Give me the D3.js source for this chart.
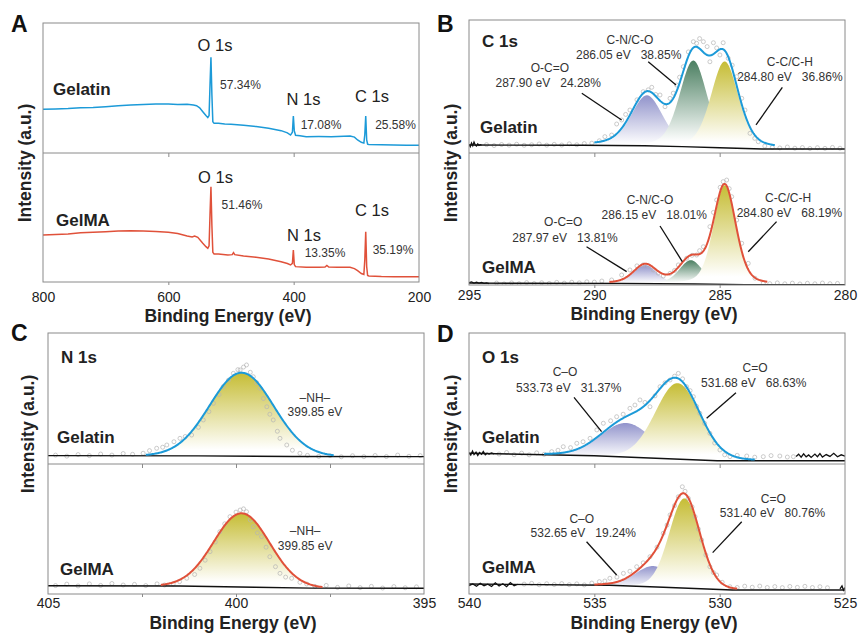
<!DOCTYPE html>
<html>
<head>
<meta charset="utf-8">
<script src="https://cdn.jsdelivr.net/npm/d3@7"></script>
<style>
  body { margin: 0; background: #fff; }
  text { font-family: "Liberation Sans", Arial, sans-serif; }
</style>
</head>
<body>
<script>
// ---------------- data (binding energy in eV, intensity in a.u. 0-100 per sub-plot) ----------------

// A: survey spectra
var surveyGelatin = [
  [800,33.6],[780,33.9],[760,34.2],[740,34.8],[720,35.0],[700,35.6],[680,36.3],[660,37.0],[640,37.4],
  [620,37.6],[600,37.7],[585,37.3],[570,37.5],[560,36.9],[555,36.4],[550,34.8],[545,31.8],[540,28.9],
  [537,27.3],[535,28.8],[533.5,52],[532,73.6],[530.5,45],[529,24],[527,22.8],[520,22.9],[510,22.4],
  [500,22.1],[480,21.3],[460,20.3],[440,19.0],[420,17.2],[410,15.5],[405,13.8],[402,16],[400.5,28.5],
  [399,17],[397,13.6],[390,13.2],[380,12.5],[360,12.6],[340,12.5],[320,12.9],[310,13.1],[303,12.2],
  [298,10.0],[292,8.2],[288,7.6],[286.5,14],[285,28.5],[283.5,10],[282,6.8],[280,6.6],[260,6.3],
  [240,6.2],[220,6.0],[200,5.9]
];
var surveyGelMA = [
  [800,36.4],[780,36.8],[760,37.3],[740,38.2],[720,38.6],[700,39.0],[680,39.6],[660,39.8],[640,39.6],
  [620,39.2],[600,38.5],[585,37.6],[570,35.7],[562,34.9],[558,35.6],[553,34.6],[545,30.0],[540,27.4],
  [537,26.1],[535,28],[533.5,52],[532,73.9],[530.5,44],[529,23],[527,21.7],[520,21.7],[505,20.9],
  [498,21.2],[496,22.8],[494,21.2],[480,20.2],[460,19.1],[440,17.8],[420,15.7],[410,14.3],[405,13.2],
  [402,14.5],[400.5,24.8],[399,13.5],[397,11.9],[380,11.4],[360,11.4],[350,11.6],[347,12.8],[344,11.6],
  [330,11.4],[310,11.4],[303,10.4],[298,8.8],[292,6.6],[288,5.8],[286.5,17],[285,39.0],[283.5,12],
  [282,5.0],[280,4.6],[260,4.2],[240,4.1],[200,4.1]
];
var surveyLinesGelatin = ["O 1s", "N 1s", "C 1s"];
var surveyPctGelatin = ["57.34%", "17.08%", "25.58%"];
var surveyLinesGelMA = ["O 1s", "N 1s", "C 1s"];
var surveyPctGelMA = ["51.46%", "13.35%", "35.19%"];

// B: C 1s high resolution
var c1sGelatinRaw = [
  [294.3,6.3],[294.0,5.6],[293.7,6.4],[293.4,5.9],[293.1,6.6],[292.8,5.8],[292.5,6.2],[292.2,6.8],
  [291.9,5.9],[291.6,6.5],[291.3,6.0],[291.0,6.9],[290.7,6.2],[290.4,7.1],[290.1,7.4],[289.8,9.2],
  [289.58,12.3],[289.31,13.5],[289.11,21.8],[288.91,24.8],[288.75,29],[288.58,32.3],[288.3,40],
  [288.05,46.1],[287.85,47.5],[287.71,49.4],[287.55,44],[287.38,43.6],[287.18,34.8],[286.98,41.1],
  [286.85,45],[286.72,51.1],[286.6,57],[286.45,64.9],[286.25,76],[286.05,83.7],[285.92,82.5],
  [285.8,86],[285.65,83.7],[285.5,80],[285.39,68.6],[285.25,82.9],[285.12,79],[284.99,73.7],
  [284.86,82.9],[284.66,71.2],[284.5,66],[284.32,57.4],[284.12,41.1],[283.99,32.3],[283.79,14.8],
  [283.6,11],[283.46,8.5],[283.2,5.2],[282.9,4.2],[282.6,3.8],[282.3,4.5],[282.0,3.6],[281.7,4.1],
  [281.4,3.4],[281.1,4.0],[280.8,3.5],[280.5,4.2],[280.2,3.6]
];
var c1sGelatinNoise = [[295,6.5],[294.95,4.8],[294.9,7.5],[294.85,5.5],[294.8,8.2],[294.75,6.0],
  [294.7,5.2],[294.65,6.8],[294.6,5.7],[294.55,6.2],[294.5,5.9]];
var c1sGelatinBg = [[295,6.0],[290.5,5.8],[288,5.4],[286.5,4.8],[285,3.9],[283.3,3.0],[280,3.0]];
var c1sGelatinPeaks = [
  {name: "O-C=O",   be: 287.90, pct: 24.28, height: 38, fwhm: 1.5},
  {name: "C-N/C-O", be: 286.05, pct: 38.85, height: 65, fwhm: 1.3},
  {name: "C-C/C-H", be: 284.80, pct: 36.86, height: 65, fwhm: 1.3}
];

var c1sGelMARaw = [
  [293.9,1.5],[293.6,0.8],[293.3,1.6],[293.0,1.0],[292.7,1.8],[292.4,1.1],[292.1,1.7],[291.8,1.2],
  [291.5,2.0],[291.2,1.4],[290.9,2.1],[290.6,1.6],[290.3,2.4],[290.0,2.2],[289.7,3.0],[289.31,3.8],
  [288.91,7.6],[288.58,11.4],[288.3,14.5],[288.05,15.2],[287.85,14.8],[287.65,11.4],[287.45,9],
  [287.25,6.8],[286.98,8.8],[286.8,11],[286.65,15.2],[286.32,20.2],[286.1,22.5],[285.92,22.7],
  [285.8,26],[285.65,29.0],[285.39,44.2],[285.25,55],[285.12,64.4],[284.98,74],[284.86,78.3],
  [284.72,79.5],[284.62,73],[284.52,66.9],[284.32,49.2],[284.12,31.6],[283.86,16.4],[283.59,5.1],
  [283.26,1.3],[283.0,1.0],[282.7,1.6],[282.4,0.9],[282.1,1.4],[281.8,0.8],[281.5,1.3],[281.2,0.9],
  [280.9,1.5],[280.6,1.0],[280.3,1.2]
];
var c1sGelMANoise = [[295,1.8],[294.9,2.4],[294.8,1.5],[294.7,2.1],[294.6,1.4],[294.5,1.9],
  [294.4,1.2],[294.3,1.6],[294.2,1.1]];
var c1sGelMABg = [[295,1.4],[289,1.2],[286,0.8],[284,0.3],[280,0.2]];
var c1sGelMAPeaks = [
  {name: "O-C=O",   be: 287.97, pct: 13.81, height: 14, fwhm: 1.1},
  {name: "C-N/C-O", be: 286.15, pct: 18.01, height: 18, fwhm: 1.1},
  {name: "C-C/C-H", be: 284.80, pct: 68.19, height: 75, fwhm: 1.05}
];

// C: N 1s high resolution
var n1sGelatinRaw = [
  [404.8,6.8],[404.5,6.0],[404.2,7.2],[403.9,6.4],[403.6,7.6],[403.3,6.8],[403.0,8.0],[402.75,7.4],
  [402.47,8.2],[402.3,10.2],[402.11,12.0],[401.95,12.8],[401.84,14.5],[401.65,17],[401.49,19.6],
  [401.35,21],[401.18,22.1],[401.0,28],[400.87,33.6],[400.72,40],[400.6,46.3],[400.45,53],
  [400.34,59.0],[400.2,64],[400.07,69.2],[399.95,72],[399.89,71.8],[399.8,74],[399.72,75.6],
  [399.62,70],[399.54,66.6],[399.45,62],[399.36,57.8],[399.27,50],[399.18,43.7],[399.1,38],
  [399.01,33.6],[398.9,25],[398.83,19.6],[398.65,14.5],[398.5,10.5],[398.3,8.2],[398.1,6.6],
  [397.8,5.8],[397.5,6.4],[397.2,5.5],[396.9,6.3],[396.6,5.6],[396.3,6.5],[396.0,5.7],[395.7,6.8],
  [395.4,5.9],[395.1,6.4]
];
var n1sGelatinBg = [[405,6.4],[401,6.2],[398.5,5.7],[395,5.6]];
var n1sGelatinPeaks = [{name: "\u2013NH\u2013", be: 399.85, height: 63.7, fwhm: 2.0}];

var n1sGelMARaw = [
  [404.8,6.5],[404.5,7.6],[404.2,6.2],[403.9,7.8],[403.6,6.6],[403.3,8.1],[403.0,6.9],[402.7,7.4],
  [402.4,6.5],[402.1,7.8],[401.9,6.9],[401.67,7.7],[401.5,9.5],[401.31,12.1],[401.1,15],[400.96,19.8],
  [400.82,26],[400.69,32.6],[400.55,40],[400.43,47.9],[400.3,54],[400.16,59.5],[400.0,63],
  [399.89,64.6],[399.8,65.5],[399.72,63.3],[399.62,57],[399.54,51.8],[399.43,47],[399.32,44.1],
  [399.2,36],[399.10,28.7],[398.95,21],[398.83,15.9],[398.68,13],[398.52,12.1],[398.3,9],
  [398.12,7.7],[397.9,5.8],[397.6,6.6],[397.3,5.1],[397.0,6.2],[396.7,4.9],[396.4,5.9],[396.1,4.6],
  [395.8,5.7],[395.5,4.8],[395.2,5.5]
];
var n1sGelMABg = [[405,6.4],[401.5,6.1],[399.5,5.2],[398,4.5],[395,4.4]];
var n1sGelMAPeaks = [{name: "\u2013NH\u2013", be: 399.85, height: 56.7, fwhm: 1.75}];

// D: O 1s high resolution
var o1sGelatinRaw = [
  [538.8,7.6],[538.5,8.8],[538.2,7.1],[537.9,8.3],[537.6,7.0],[537.3,8.5],[537.0,7.4],[536.7,9.4],
  [536.45,10.5],[536.24,13.2],[535.95,12.5],[535.70,15.8],[535.45,17],[535.17,19.6],[534.9,26],
  [534.64,31.1],[534.35,33],[534.11,36.1],[533.85,38],[533.58,42.5],[533.38,45],[533.18,48.9],
  [532.98,47],[532.78,43.7],[532.58,52],[532.38,59.0],[532.18,62],[531.98,64.1],[531.8,67],
  [531.65,69.2],[531.48,65],[531.32,59.0],[531.18,56],[531.05,51.4],[530.92,44],[530.79,38.7],
  [530.6,31],[530.39,23.4],[530.2,16],[529.99,10.7],[529.8,7],[529.59,5.6],[529.3,6.6],[528.92,6.1],
  [528.6,5.2],[528.26,5.6],[527.95,6.4],[527.6,6.1],[527.3,5.3],[527.06,5.6]
];
var o1sGelatinNoise = [[540,8.5],[539.93,6.8],[539.86,9.8],[539.8,7.2],[539.72,9.0],[539.65,6.5],
  [539.58,8.8],[539.5,7.4],[539.43,9.5],[539.35,7.0],[539.28,8.2],[539.2,7.6],[539.1,8.4],[539.0,7.8]];
var o1sGelatinNoise2 = [[526.95,5.8],[526.85,7.5],[526.75,5.2],[526.65,7.8],[526.55,5.5],[526.45,6.9],
  [526.35,5.0],[526.2,7.6],[526.1,5.6],[526.0,8.0],[525.9,5.3],[525.75,7.2],[525.6,5.8],[525.45,8.2],
  [525.3,5.5],[525.15,7.0],[525.0,6.0]];
var o1sGelatinBg = [[540,8.2],[535,6.3],[530.1,2.5],[525,2.5]];
var o1sGelatinPeaks = [
  {name: "C\u2013O", be: 533.73, pct: 31.37, height: 26, fwhm: 2.4},
  {name: "C=O",     be: 531.68, pct: 68.63, height: 58, fwhm: 2.1}
];

var o1sGelMARaw = [
  [537.8,7.6],[537.5,8.2],[537.2,7.1],[536.9,7.9],[536.6,7.3],[536.3,8.0],[536.0,7.2],[535.7,7.8],
  [535.4,7.0],[535.1,8.4],[534.8,9.5],[534.58,10],[534.38,12.1],[534.1,13],[533.84,15.9],[533.58,17.5],
  [533.31,21.0],[533.05,24],[532.78,28.7],[532.5,36],[532.25,46.7],[532.1,53],[531.98,60.8],[531.8,68],
  [531.65,74.8],[531.49,82.5],[531.38,79],[531.25,73.6],[531.1,67],[530.98,59.5],[530.85,50],
  [530.72,41.5],[530.55,30],[530.39,21.0],[530.25,16.5],[530.12,14.6],[529.9,9],[529.59,5.6],
  [529.3,5.0],[529.0,6.0],[528.7,5.2],[528.4,6.1],[528.1,5.0],[527.8,5.7],[527.5,4.9],[527.2,5.8],
  [526.9,5.1],[526.6,5.9],[526.3,5.0],[526.0,5.6],[525.7,4.8]
];
var o1sGelMANoise = [[540,6.5],[539.85,7.8],[539.7,6.0],[539.55,8.2],[539.4,6.4],[539.25,7.5],
  [539.1,5.8],[538.95,8.6],[538.8,6.2],[538.65,7.9],[538.5,5.6],[538.35,8.8],[538.2,6.3],[538.05,7.5]];
var o1sGelMANoise2 = [[525.2,4.0],[525.12,6.2],[525.06,3.0],[525.0,5.0]];
var o1sGelMABg = [[540,7.7],[534.4,6.7],[532.25,5.2],[529.5,3.1],[525,3.1]];
var o1sGelMAPeaks = [
  {name: "C\u2013O", be: 532.65, pct: 19.24, height: 16, fwhm: 1.7},
  {name: "C=O",     be: 531.40, pct: 80.76, height: 69, fwhm: 1.45}
];

// Lorentzian share of the fitted line shape for each core level
var shapeMix = {c1s: 0.3, n1s: 0.0, o1s: 0.1};

// ---------------- styles / layout ----------------
var blue = "#1c9ad8", red = "#e0513a";
var compColors = {
  "O-C=O": "purple", "C-N/C-O": "green", "C-C/C-H": "yellow",
  "\u2013NH\u2013": "yellow", "C\u2013O": "purple", "C=O": "yellow"
};
var gradStops = {purple: "#9193cb", green: "#4b7f61", yellow: "#c6bd35"};

var svg = d3.select("body").append("svg").attr("width", 860).attr("height", 633);
var defs = svg.append("defs");
Object.keys(gradStops).forEach(function(k) {
  var gr = defs.append("linearGradient").attr("id", "grad-" + k)
    .attr("x1", 0).attr("y1", 0).attr("x2", 0).attr("y2", 1);
  gr.append("stop").attr("offset", "0%").attr("stop-color", gradStops[k]);
  gr.append("stop").attr("offset", "92%").attr("stop-color", "#fff");
});

// annotation anchors, in data coordinates
var notesA = [
  [{t: 0, x: 525.5, y: 83.1, p: 484.9, q: 52.3}, {t: 1, x: 384.3, y: 41.5, p: 356.4, q: 21.5}, {t: 2, x: 275, y: 43.8, p: 237.5, q: 21.5}],
  [{t: 0, x: 524.7, y: 81.4, p: 482.5, q: 59.7}, {t: 1, x: 383.5, y: 36.4, p: 350.0, q: 22.5}, {t: 2, x: 275, y: 55.8, p: 241.5, q: 24.8}]
];
var notesB = [
  [{nx: 291.77, ny: 63.9, vx: 291.84, vy: 52.6, l: [290.50, 44.9, 288.91, 24.8]},
   {nx: 288.58, ny: 85.0, vx: 288.63, vy: 73.7, l: [287.85, 68.6, 286.74, 51.1]},
   {nx: 282.20, ny: 68.4, vx: 282.20, vy: 57.1, l: [282.50, 49.4, 283.55, 21.1]}],
  [{nx: 291.24, ny: 48.0, vx: 291.17, vy: 35.6, l: [290.31, 29.0, 288.71, 10.1]},
   {nx: 287.78, ny: 64.4, vx: 287.61, vy: 53.0, l: [287.38, 44.7, 286.49, 17.7]},
   {nx: 282.27, ny: 65.9, vx: 282.22, vy: 54.5, l: [282.73, 48.0, 283.86, 25.2]}]
];
var notesC = [
  [{nx: 397.90, ny: 50.6, vx: 397.90, vy: 40.0}],
  [{nx: 398.16, ny: 49.0, vx: 398.16, vy: 37.3}]
];
var notesD = [
  [{nx: 536.17, ny: 70.5, vx: 536.02, vy: 58.5, l: [535.81, 50.9, 534.71, 24.7]},
   {nx: 528.59, ny: 73.8, vx: 528.64, vy: 62.1, l: [529.35, 54.4, 530.52, 34.9]}],
  [{nx: 535.50, ny: 58.2, vx: 535.44, vy: 47.2, l: [535.31, 40.2, 534.11, 14.6]},
   {nx: 527.86, ny: 73.6, vx: 527.89, vy: 62.1, l: [529.12, 55.6, 530.28, 31.8]}]
];

var panels = [
  {letter: "A", lx: 11, ly: 32, left: 43, right: 419, top: 23, mid: 153, bottom: 282,
   domain: [800, 200], labels: [800, 600, 400, 200], ticks: [600, 400], tickY: 304, xlabY: 322,
   ylab: [25, 163], nameX: [10, 13], nameDy: [58, 56],
   subs: [
     {name: "Gelatin", survey: surveyGelatin, color: blue, lines: surveyLinesGelatin, pct: surveyPctGelatin, notes: notesA[0]},
     {name: "GelMA", survey: surveyGelMA, color: red, lines: surveyLinesGelMA, pct: surveyPctGelMA, notes: notesA[1]}
   ]},
  {letter: "B", lx: 437, ly: 32, title: "C 1s", left: 469, right: 845, top: 20, mid: 153, bottom: 285,
   domain: [295, 280], labels: [295, 290, 285, 280], ticks: [290, 285], tickY: 302, xlabY: 320,
   ylab: [451, 163], nameX: [11, 13], nameDy: [20, 12],
   subs: [
     {name: "Gelatin", raw: c1sGelatinRaw, noise: [c1sGelatinNoise], bg: c1sGelatinBg, peaks: c1sGelatinPeaks,
      mix: shapeMix.c1s, range: [290.0, 282.8], color: blue, notes: notesB[0]},
     {name: "GelMA", raw: c1sGelMARaw, noise: [c1sGelMANoise], bg: c1sGelMABg, peaks: c1sGelMAPeaks,
      mix: shapeMix.c1s, range: [289.4, 283.1], color: red, notes: notesB[1]}
   ]},
  {letter: "C", lx: 11, ly: 341, title: "N 1s", left: 48, right: 424, top: 333, mid: 464, bottom: 594,
   domain: [405, 395], labels: [405, 400, 395], ticks: [402.5, 400, 397.5], tickY: 610, xlabY: 629,
   ylab: [28, 434], nameX: [9, 12], nameDy: [21, 19],
   subs: [
     {name: "Gelatin", raw: n1sGelatinRaw, noise: [], bg: n1sGelatinBg, peaks: n1sGelatinPeaks,
      mix: shapeMix.n1s, range: [402.4, 397.4], color: blue, notes: notesC[0], nh: true},
     {name: "GelMA", raw: n1sGelMARaw, noise: [], bg: n1sGelMABg, peaks: n1sGelMAPeaks,
      mix: shapeMix.n1s, range: [402.0, 397.7], color: red, notes: notesC[1], nh: true}
   ]},
  {letter: "D", lx: 437, ly: 342, title: "O 1s", left: 469, right: 845, top: 333, mid: 464, bottom: 594,
   domain: [540, 525], labels: [540, 535, 530, 525], ticks: [535, 530], tickY: 610, xlabY: 629,
   ylab: [451, 434], nameX: [13, 13], nameDy: [21, 21],
   subs: [
     {name: "Gelatin", raw: o1sGelatinRaw, noise: [o1sGelatinNoise, o1sGelatinNoise2], bg: o1sGelatinBg,
      peaks: o1sGelatinPeaks, mix: shapeMix.o1s, range: [537.0, 528.6], color: blue, notes: notesD[0]},
     {name: "GelMA", raw: o1sGelMARaw, noise: [o1sGelMANoise, o1sGelMANoise2], bg: o1sGelMABg,
      peaks: o1sGelMAPeaks, mix: shapeMix.o1s, range: [535.0, 529.3], color: red, notes: notesD[1]}
   ]}
];

function pv(e, pk, mix) {
  var u = (e - pk.be) / pk.fwhm;
  var gauss = Math.exp(-4 * Math.LN2 * u * u);
  var lor = 1 / (1 + 4 * u * u);
  return pk.height * (mix * lor + (1 - mix) * gauss);
}

panels.forEach(function(p, pi) {
  var g = svg.append("g");
  var x = d3.scaleLinear().domain(p.domain).range([p.left, p.right]);

  p.subs.forEach(function(s, k) {
    var top = k === 0 ? p.top : p.mid, bot = k === 0 ? p.mid : p.bottom;
    var y = d3.scaleLinear().domain([0, 100]).range([bot, top]);
    var clipId = "clip" + pi + "-" + k;
    defs.append("clipPath").attr("id", clipId).append("rect")
      .attr("x", p.left).attr("y", top).attr("width", p.right - p.left).attr("height", bot - top);
    var layer = g.append("g").attr("clip-path", "url(#" + clipId + ")");

    if (s.survey) {
      layer.append("path").datum(s.survey)
        .attr("fill", "none").attr("stroke", s.color).attr("stroke-width", 1.5)
        .attr("d", d3.line().x(function(d) { return x(d[0]); }).y(function(d) { return y(d[1]); }));
      s.notes.forEach(function(n) {
        g.append("text").attr("x", x(n.x)).attr("y", y(n.y)).attr("dy", "0.35em")
          .attr("text-anchor", "middle").attr("font-size", 16.5).attr("fill", "#222").text(s.lines[n.t]);
        g.append("text").attr("x", x(n.p)).attr("y", y(n.q)).attr("dy", "0.35em")
          .attr("text-anchor", "middle").attr("font-size", 12).attr("fill", "#333").text(s.pct[n.t]);
      });
    } else {
      var bgS = d3.scaleLinear().domain(s.bg.map(function(d) { return d[0]; }))
        .range(s.bg.map(function(d) { return d[1]; }));
      var grid = d3.range(s.range[1], s.range[0] + 1e-9, 0.02);

      // fitted components
      s.peaks.forEach(function(pk) {
        layer.append("path").datum(grid)
          .attr("fill", "url(#grad-" + compColors[pk.name] + ")")
          .attr("d", d3.area().x(function(e) { return x(e); })
            .y0(function(e) { return y(bgS(e)); })
            .y1(function(e) { return y(bgS(e) + pv(e, pk, s.mix)); }));
      });
      // measured points
      layer.selectAll(null).data(s.raw).enter().append("circle")
        .attr("cx", function(d) { return x(d[0]); }).attr("cy", function(d) { return y(d[1]); })
        .attr("r", 2).attr("fill", "none").attr("stroke", "#b4b4b4").attr("stroke-width", 0.7);
      // background
      layer.append("path").datum(s.bg)
        .attr("fill", "none").attr("stroke", "#111").attr("stroke-width", 1.4)
        .attr("d", d3.line().x(function(d) { return x(d[0]); }).y(function(d) { return y(d[1]); }));
      s.noise.forEach(function(arr) {
        layer.append("path").datum(arr)
          .attr("fill", "none").attr("stroke", "#111").attr("stroke-width", 1.3)
          .attr("d", d3.line().x(function(d) { return x(d[0]); }).y(function(d) { return y(d[1]); }));
      });
      // envelope
      layer.append("path").datum(grid)
        .attr("fill", "none").attr("stroke", s.color).attr("stroke-width", 2)
        .attr("d", d3.line().x(function(e) { return x(e); })
          .y(function(e) { return y(bgS(e) + d3.sum(s.peaks, function(pk) { return pv(e, pk, s.mix); })); }));

      // annotations
      s.notes.forEach(function(n, i) {
        var pk = s.peaks[i];
        g.append("text").attr("x", x(n.nx)).attr("y", y(n.ny)).attr("dy", "0.35em")
          .attr("text-anchor", "middle").attr("font-size", 12).attr("fill", "#333").text(pk.name);
        g.append("text").attr("x", x(n.vx)).attr("y", y(n.vy)).attr("dy", "0.35em")
          .attr("text-anchor", "middle").attr("font-size", 12).attr("fill", "#333")
          .style("white-space", "pre")
          .text(s.nh ? pk.be.toFixed(2) + " eV" : pk.be.toFixed(2) + " eV   " + pk.pct.toFixed(2) + "%");
        if (n.l) {
          g.append("line").attr("x1", x(n.l[0])).attr("y1", y(n.l[1]))
            .attr("x2", x(n.l[2])).attr("y2", y(n.l[3]))
            .attr("stroke", "#111").attr("stroke-width", 1.3);
        }
      });
    }

    g.append("text").attr("x", p.left + p.nameX[k]).attr("y", bot - p.nameDy[k])
      .attr("font-size", 17).attr("font-weight", "bold").attr("fill", "#222").text(s.name);
  });

  // frame and divider
  g.append("rect").attr("x", p.left).attr("y", p.top)
    .attr("width", p.right - p.left).attr("height", p.bottom - p.top)
    .attr("fill", "none").attr("stroke", "#8a8a8a").attr("stroke-width", 1);
  g.append("line").attr("x1", p.left).attr("x2", p.right).attr("y1", p.mid).attr("y2", p.mid)
    .attr("stroke", "#8a8a8a").attr("stroke-width", 1);

  // ticks on the divider and on the bottom axis
  var midAxis = g.append("g").attr("transform", "translate(0," + p.mid + ")")
    .call(d3.axisBottom(x).tickValues(p.ticks).tickSize(4).tickFormat(""));
  var botAxis = g.append("g").attr("transform", "translate(0," + p.bottom + ")")
    .call(d3.axisBottom(x).tickValues(p.ticks).tickSize(3).tickFormat(""));
  [midAxis, botAxis].forEach(function(a) {
    a.select(".domain").remove();
    a.selectAll("line").attr("stroke", "#8a8a8a");
  });
  var lab = g.append("g").attr("transform", "translate(0," + (p.tickY - 12) + ")")
    .call(d3.axisBottom(x).tickValues(p.labels).tickSize(0).tickPadding(0).tickFormat(d3.format("")));
  lab.select(".domain").remove();
  lab.selectAll("text").attr("font-size", 14).attr("fill", "#222")
    .attr("font-family", "Liberation Sans, Arial, sans-serif");

  g.append("text").attr("x", (p.left + p.right) / 2 - 3).attr("y", p.xlabY)
    .attr("text-anchor", "middle").attr("font-size", 17.5).attr("font-weight", "bold")
    .attr("fill", "#222").text("Binding Energy (eV)");
  g.append("text").attr("transform", "translate(" + p.ylab[0] + "," + p.ylab[1] + ") rotate(-90)")
    .attr("dy", "0.35em").attr("text-anchor", "middle").attr("font-size", 17.5)
    .attr("font-weight", "bold").attr("fill", "#222").text("Intensity (a.u.)");
  g.append("text").attr("x", p.lx).attr("y", p.ly).attr("font-size", 23).attr("font-weight", "bold")
    .attr("fill", "#111").text(p.letter);
  if (p.title) {
    g.append("text").attr("x", p.left + 13).attr("y", p.top + (pi === 1 ? 27 : 30))
      .attr("font-size", 17).attr("font-weight", "bold").attr("fill", "#222").text(p.title);
  }
});
</script>
</body>
</html>
